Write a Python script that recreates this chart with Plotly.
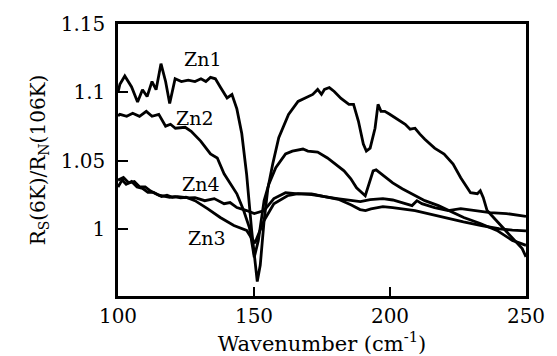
import plotly.graph_objects as go

# ---- data ----
zn1_x = [100, 100.7, 102.5, 105, 107.2, 109, 110.7, 112.5, 114, 115.8, 117.5, 119, 121, 123.3, 125.8,
         128.3, 130.5, 132.3, 134, 135.8, 137.6, 140.1, 141.9, 143.7, 145.5, 146.5, 147.3, 149.1, 150.5,
         151.2, 152.3, 153.7, 155.1, 156.9, 159.1, 162.7, 166.2, 169.8, 171.6, 173.4, 174.8, 175.9, 177.7,
         179.5, 182.0, 184.9, 186.6, 188.4, 190.2, 191.3, 192.7, 194.5, 195.6, 196.7, 198.1, 199.9, 201.0,
         203.5, 205.6, 207.4, 209.2, 211.0, 212.8, 216.4, 219.9, 223.2, 226.0, 229.6, 232.1, 233.2, 234.3,
         235.7, 239.3, 242.8, 246.4, 248.6, 250]
zn1_y = [1.100, 1.106, 1.112, 1.104, 1.093, 1.102, 1.097, 1.108, 1.102, 1.121, 1.108, 1.092, 1.110, 1.108,
         1.109, 1.108, 1.110, 1.108, 1.111, 1.110, 1.104, 1.096, 1.0985, 1.088, 1.070, 1.052, 1.040, 1.000,
         0.972, 0.962, 0.974, 1.006, 1.030, 1.048, 1.067, 1.084, 1.0935, 1.097, 1.0986, 1.1022, 1.0986,
         1.1022, 1.1036, 1.1007, 1.0957, 1.0913, 1.0913, 1.079, 1.0623, 1.0572, 1.0594, 1.0739, 1.0913,
         1.0862, 1.0862, 1.0841, 1.0826, 1.079, 1.0768, 1.0732, 1.0739, 1.0696, 1.0659, 1.0594, 1.0551,
         1.0478, 1.0377, 1.0268, 1.0261, 1.0283, 1.0232, 1.0138, 1.006, 0.998, 0.991, 0.986, 0.980]

zn2_x = [100, 100.7, 103.2, 105.4, 107.9, 110.4, 112.5, 115, 117.5, 119.3, 121.1, 124.7, 126.9, 130.4, 134,
         136.5, 139, 141.2, 143.7, 146.2, 148.3, 150.1, 151.6, 153.7, 155.5, 158, 161.6, 164.1, 166.2, 168,
         169.8, 173.4, 177, 179.5, 183.1, 185.6, 187.7, 190.9, 193.8, 194.9, 196.7, 198.4, 201, 204.5,
         208.1, 212.8, 217.8, 221.4, 227.1, 233.2, 239.3, 245, 250]
zn2_y = [1.083, 1.084, 1.0826, 1.0848, 1.0826, 1.0862, 1.0826, 1.084, 1.0754, 1.0768, 1.0739, 1.0746,
         1.0717, 1.0645, 1.0551, 1.0522, 1.0406, 1.034, 1.026, 1.0138, 1.0014, 0.9797, 0.992, 1.021,
         1.0333, 1.045, 1.0551, 1.0572, 1.058, 1.0587, 1.0572, 1.0565, 1.0522, 1.0486, 1.0428, 1.037,
         1.0304, 1.0246, 1.0428, 1.0435, 1.0406, 1.0377, 1.034, 1.0297, 1.0261, 1.021, 1.0174, 1.0138,
         1.0087, 1.0043, 0.9993, 0.992, 0.9884]

zn3_x = [100, 101.5, 103, 105, 107, 109, 111, 113, 115, 117, 119, 121, 123, 125, 128.3, 132.9, 137.6,
         142.6, 147.3, 150.3, 153.7, 157.3, 162.3, 166.2, 171.2, 176, 181, 185.6, 189, 191, 193, 197.4,
         201, 209.2, 215, 221.4, 227, 233.2, 240, 245, 248.6, 250]
zn3_y = [1.031, 1.036, 1.033, 1.035, 1.031, 1.030, 1.027, 1.027, 1.025, 1.0245, 1.0235, 1.024, 1.023,
         1.0235, 1.021, 1.0152, 1.0087, 1.0029, 0.9993, 0.990, 1.0065, 1.0188, 1.0246, 1.0261, 1.0255,
         1.024, 1.022, 1.018, 1.0145, 1.0138, 1.015, 1.0167, 1.016, 1.0138, 1.011, 1.008, 1.0055, 1.003,
         1.0005, 0.9995, 0.9993, 0.999]

zn4_x = [100, 102, 104, 106, 108, 110, 112, 114, 116, 118, 120, 122, 124, 126, 128.3, 131.9, 135.4, 139,
         141.2, 143.7, 147.3, 150.1, 153.7, 157.3, 161.6, 166.2, 171.2, 175.9, 180.6, 185.6, 189.1, 192.7,
         197.4, 201, 204.5, 208.1, 209.9, 211.7, 216.4, 221.4, 226, 230.7, 236.8, 242.8, 247.5, 250]
zn4_y = [1.036, 1.038, 1.034, 1.035, 1.031, 1.031, 1.028, 1.026, 1.024, 1.025, 1.0235, 1.024, 1.0235,
         1.023, 1.0232, 1.021, 1.0225, 1.0188, 1.0196, 1.016, 1.0138, 1.0116, 1.0138, 1.0225, 1.0268,
         1.026, 1.026, 1.0239, 1.0225, 1.021, 1.0203, 1.0217, 1.0225, 1.0215, 1.0196, 1.0174, 1.021,
         1.0188, 1.016, 1.0138, 1.0152, 1.0138, 1.0123, 1.0116, 1.0101, 1.0095]

series = [("Zn1", zn1_x, zn1_y), ("Zn2", zn2_x, zn2_y), ("Zn3", zn3_x, zn3_y), ("Zn4", zn4_x, zn4_y)]

label_names = ["Zn1", "Zn2", "Zn4", "Zn3"]
label_x = [131.1, 128.3, 130.4, 132.6]
label_y = [1.1246, 1.0812, 1.0333, 0.9935]

x_ticks = [100, 150, 200, 250]
y_ticks = [1.0, 1.05, 1.1, 1.15]
y_ticktext = ["1", "1.05", "1.1", "1.15"]

FONT = "DejaVu Serif"

fig = go.Figure()
for name, xs, ys in series:
    fig.add_trace(go.Scatter(x=xs, y=ys, mode="lines", name=name,
                             line=dict(color="black", width=2.8), showlegend=False))

for t, lx, ly in zip(label_names, label_x, label_y):
    fig.add_annotation(x=lx, y=ly, text=t, showarrow=False,
                       font=dict(family=FONT, size=19, color="black"))

fig.update_layout(
    width=557, height=356,
    margin=dict(l=118, r=20, t=22, b=60),
    paper_bgcolor="white", plot_bgcolor="white",
    font=dict(family=FONT, size=20, color="black"),
)
fig.update_xaxes(range=[100, 250], tickvals=x_ticks, ticks="inside", ticklen=9, tickwidth=2,
                 tickcolor="black", showline=True, linewidth=2.5, linecolor="black", mirror=True,
                 showgrid=False, zeroline=False, tickfont=dict(family=FONT, size=20),
                 title=dict(text="Wavenumber (cm<sup>-1</sup>)", standoff=2,
                            font=dict(family=FONT, size=21)))
fig.update_yaxes(range=[0.9514, 1.15], tickvals=y_ticks, ticktext=y_ticktext, ticks="inside",
                 ticklen=10, tickwidth=2, tickcolor="black", showline=True, linewidth=2.5,
                 linecolor="black", mirror=True, showgrid=False, zeroline=False, ticklabelstandoff=6,
                 tickfont=dict(family=FONT, size=20),
                 title=dict(text="R<sub>S</sub>(6K)/R<sub>N</sub>(106K)", standoff=10,
                            font=dict(family=FONT, size=20)))

fig.write_html("out.html")
